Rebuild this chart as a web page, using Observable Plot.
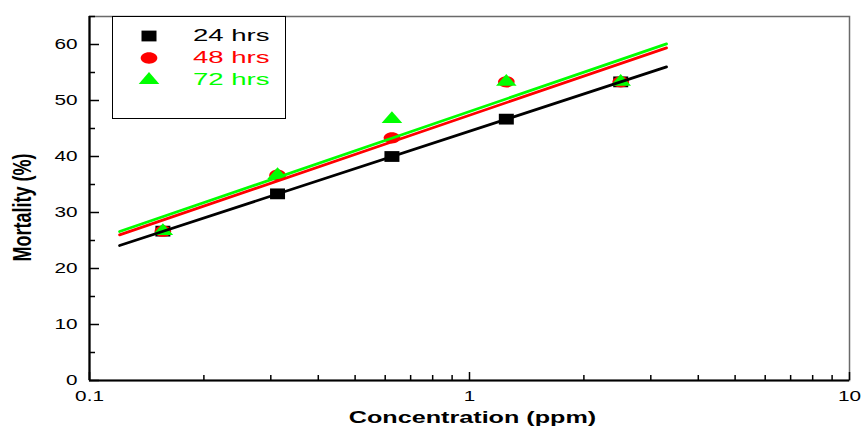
<!DOCTYPE html>
<html><head><meta charset="utf-8">
<script src="https://cdn.jsdelivr.net/npm/d3@7"></script>
<script src="https://cdn.jsdelivr.net/npm/@observablehq/plot@0.6"></script>
<style>
body{margin:0;background:#fff;font-family:"Liberation Sans",Arial,sans-serif}
#wrap{position:relative;width:861px;height:431px}
#legend{position:absolute;left:112px;top:16px;width:174px;height:103px;border:1px solid #000;background:#fff;box-sizing:border-box}
.row{position:absolute;left:0;height:22px}
.row svg{position:absolute;left:24px;top:0}
.row span{position:absolute;left:80px;top:0;font-size:17px;line-height:22px;white-space:nowrap;transform:scaleX(1.62);transform-origin:0 50%}
</style></head><body><div id="wrap"></div>
<script>
const concentrations = [0.156, 0.3125, 0.625, 1.25, 2.5];
const mortality24 = [26.67, 33.33, 40.0, 46.67, 53.33];
const mortality48 = [26.67, 36.67, 43.33, 53.33, 53.33];
const mortality72 = [26.67, 36.67, 46.67, 53.33, 53.33];
const fitRange = [0.12, 3.3];
const fit24 = [24.1, 56.0];
const fit48 = [26.0, 59.4];
const fit72 = [26.6, 60.1];
const seriesNames = ["24 hrs", "48 hrs", "72 hrs"];
const seriesColors = ["#000000", "#ff0000", "#00ff00"];
const yTicks = [0, 10, 20, 30, 40, 50, 60];
const yMinorTicks = [5, 15, 25, 35, 45, 55, 65];
const xTicks = [0.1, 1, 10];
const xTickLabels = ["0.1", "1", "10"];
const xMinorTicks = [0.2,0.3,0.4,0.5,0.6,0.7,0.8,0.9,2,3,4,5,6,7,8,9];

// stretched marker shapes (wider than tall, as in the reference)
const symSquare = {draw(ctx, size) { const r = Math.sqrt(size / Math.PI), hx = r, hy = r * 0.72;
  ctx.moveTo(-hx, -hy); ctx.lineTo(hx, -hy); ctx.lineTo(hx, hy); ctx.lineTo(-hx, hy); ctx.closePath(); }};
const symEllipse = {draw(ctx, size) { const r = Math.sqrt(size / Math.PI), rx = r, ry = r * 0.68, k = 0.5523;
  ctx.moveTo(rx, 0);
  ctx.bezierCurveTo(rx, ry * k, rx * k, ry, 0, ry);
  ctx.bezierCurveTo(-rx * k, ry, -rx, ry * k, -rx, 0);
  ctx.bezierCurveTo(-rx, -ry * k, -rx * k, -ry, 0, -ry);
  ctx.bezierCurveTo(rx * k, -ry, rx, -ry * k, rx, 0); ctx.closePath(); }};
const symTriangle = {draw(ctx, size) { const r = Math.sqrt(size / Math.PI), hw = r, h = r * 1.15;
  ctx.moveTo(0, -h * 2 / 3); ctx.lineTo(hw, h / 3); ctx.lineTo(-hw, h / 3); ctx.closePath(); }};
const seriesSymbols = [symSquare, symEllipse, symTriangle];
const symR = [7.5, 8.3, 10.3];

const mort = [mortality24, mortality48, mortality72];
const fits = [fit24, fit48, fit72];
const points = seriesNames.map((s, i) => concentrations.map((c, j) => ({c, m: mort[i][j], s})));
const fitLines = seriesNames.map((s, i) => fitRange.map((c, j) => ({c, m: fits[i][j], s})));

const chart = Plot.plot({
  width: 861, height: 431,
  marginLeft: 89, marginRight: 12, marginTop: 16, marginBottom: 51,
  style: {fontFamily: '"Liberation Sans", Arial, sans-serif', fontSize: "14px", color: "#000", background: "#fff"},
  x: {type: "log", domain: [0.1, 10]},
  y: {domain: [0, 65]},
  marks: [
    Plot.frame({stroke: "#6a6a6a", strokeWidth: 1.5}),
    Plot.axisY({ticks: yTicks, tickSize: 0, tickPadding: 12, label: null, fontSize: 14}),
    Plot.axisY({ticks: yTicks, tickSize: 10, dx: 10, tickFormat: () => "", label: null, strokeWidth: 1.5}),
    Plot.axisY({ticks: yMinorTicks, tickSize: 6, dx: 6, tickFormat: () => "", label: null, strokeWidth: 1.5}),
    Plot.axisX({ticks: xTicks, tickSize: 0, tickPadding: 11, tickFormat: d => xTickLabels[xTicks.indexOf(d)], label: null, fontSize: 14}),
    Plot.axisX({ticks: xTicks, tickSize: 8, dy: -8, tickFormat: () => "", label: null, strokeWidth: 1.5}),
    Plot.axisX({ticks: xMinorTicks, tickSize: 5, dy: -5, tickFormat: () => "", label: null, strokeWidth: 1.5}),
    Plot.ruleY([0], {stroke: "#000", strokeWidth: 2.2}),
    Plot.ruleX([0.1], {stroke: "#000", strokeWidth: 2.2}),
    ...points.map((p, i) => Plot.dot(p, {x: "c", y: "m", symbol: seriesSymbols[i], r: symR[i], fill: seriesColors[i], stroke: "none"})),
    ...fitLines.map((p, i) => Plot.line(p, {x: "c", y: "m", stroke: seriesColors[i], strokeWidth: 2.8})),
    Plot.text(["Mortality (%)"], {frameAnchor: "left", rotate: -90, dx: -67, dy: 9, textAnchor: "middle", lineAnchor: "middle", fontWeight: "bold", fontSize: 18}),
    Plot.text(["Concentration (ppm)"], {frameAnchor: "bottom", dx: 3, dy: 37, textAnchor: "middle", lineAnchor: "middle", fontWeight: "bold", fontSize: 17})
  ]
});
const wrap = document.getElementById("wrap");
wrap.appendChild(chart);

// horizontal stretch of the text, as in the reference picture
chart.querySelectorAll("text").forEach(t => {
  if (t.textContent === "Mortality (%)") {
    const tr = t.getAttribute("transform");
    if (tr) t.setAttribute("transform", tr + " scale(1,1.45)");
    return;
  }
  const L = t.getComputedTextLength();
  if (L > 0) { t.setAttribute("textLength", (L * 1.48).toFixed(1)); t.setAttribute("lengthAdjust", "spacingAndGlyphs"); }
});

const legend = document.createElement("div");
legend.id = "legend";
const rowTops = [8, 30, 52];
seriesNames.forEach((name, i) => {
  const row = document.createElement("div");
  row.className = "row";
  row.style.top = rowTops[i] + "px";
  const sym = d3.symbol(seriesSymbols[i], Math.PI * symR[i] * symR[i])();
  row.innerHTML = `<svg width="24" height="22" viewBox="-12 -11 24 22"><path d="${sym}" fill="${seriesColors[i]}"/></svg><span style="color:${seriesColors[i]}">${name}</span>`;
  legend.appendChild(row);
});
wrap.appendChild(legend);
</script>
</body></html>
